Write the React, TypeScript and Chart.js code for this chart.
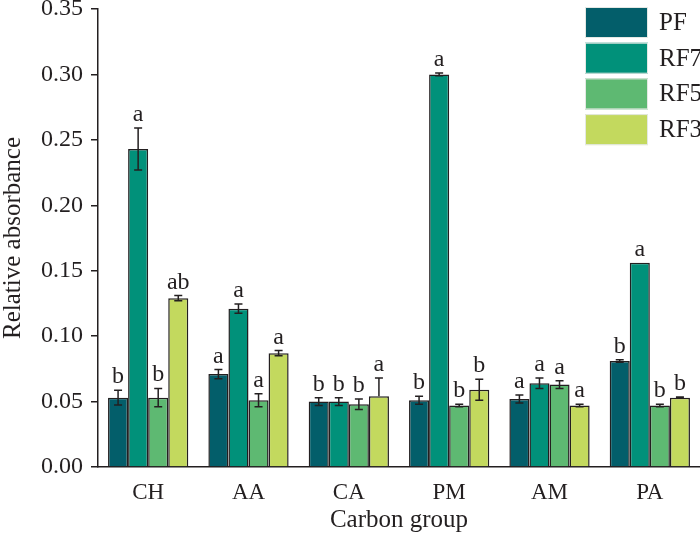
import React, { useEffect, useRef } from 'react';
import { Chart, registerables } from 'chart.js';

Chart.register(...registerables);

const categories = ['CH', 'AA', 'CA', 'PM', 'AM', 'PA'];
const seriesNames = ['PF', 'RF7', 'RF5', 'RF3'];
const seriesColors = ['#035E6A', '#01917A', '#5EB972', '#C3D95E'];

const pfValues = [0.053, 0.071, 0.050, 0.051, 0.052, 0.081];
const rf7Values = [0.243, 0.121, 0.050, 0.300, 0.064, 0.156];
const rf5Values = [0.053, 0.051, 0.048, 0.047, 0.063, 0.047];
const rf3Values = [0.129, 0.087, 0.054, 0.059, 0.047, 0.053];

const pfUpperErrors = [0.0057, 0.0035, 0.003, 0.003, 0.003, 0.001];
const rf7UpperErrors = [0.016, 0.0035, 0.003, 0.001, 0.004, 0];
const rf5UpperErrors = [0.007, 0.005, 0.004, 0.001, 0.003, 0.001];
const rf3UpperErrors = [0.002, 0.002, 0.014, 0.008, 0.001, 0.0005];

const pfLowerErrors = [0.0057, 0.0035, 0.003, 0.003, 0.003, 0.001];
const rf7LowerErrors = [0.016, 0.0035, 0.003, 0.001, 0.004, 0];
const rf5LowerErrors = [0.007, 0.005, 0.004, 0.001, 0.003, 0.001];
const rf3LowerErrors = [0.002, 0.002, 0, 0.008, 0.001, 0.0005];

const pfLetters = ['b', 'a', 'b', 'b', 'a', 'b'];
const rf7Letters = ['a', 'a', 'b', 'a', 'a', 'a'];
const rf5Letters = ['b', 'a', 'b', 'b', 'a', 'b'];
const rf3Letters = ['ab', 'a', 'a', 'b', 'a', 'b'];

const yTicks = [0, 0.05, 0.1, 0.15, 0.2, 0.25, 0.3, 0.35];

const allValues = [pfValues, rf7Values, rf5Values, rf3Values];
const allUpper = [pfUpperErrors, rf7UpperErrors, rf5UpperErrors, rf3UpperErrors];
const allLower = [pfLowerErrors, rf7LowerErrors, rf5LowerErrors, rf3LowerErrors];
const allLetters = [pfLetters, rf7Letters, rf5Letters, rf3Letters];

const FONT = '"Liberation Serif", "Times New Roman", serif';
const INK = '#231f20';

const errorPlugin = {
  id: 'errorLetters',
  afterDatasetsDraw(chart: any) {
    const ctx = chart.ctx;
    const yScale = chart.scales.y;
    ctx.save();
    ctx.strokeStyle = INK;
    ctx.fillStyle = INK;
    ctx.lineWidth = 1.5;
    ctx.font = `24px ${FONT}`;
    ctx.textAlign = 'center';
    ctx.textBaseline = 'alphabetic';
    chart.data.datasets.forEach((ds: any, i: number) => {
      const meta = chart.getDatasetMeta(i);
      meta.data.forEach((el: any, j: number) => {
        const v = allValues[i][j];
        const up = allUpper[i][j];
        const lo = allLower[i][j];
        const x = el.x;
        const yTop = yScale.getPixelForValue(v + up);
        const yBot = yScale.getPixelForValue(v - lo);
        const cap = 4;
        if (up > 0 || lo > 0) {
          ctx.beginPath();
          ctx.moveTo(x, yTop);
          ctx.lineTo(x, yBot);
          ctx.moveTo(x - cap, yTop);
          ctx.lineTo(x + cap, yTop);
          if (lo > 0) {
            ctx.moveTo(x - cap, yBot);
            ctx.lineTo(x + cap, yBot);
          }
          ctx.stroke();
        }
        ctx.fillText(allLetters[i][j], x, yTop - 7);
      });
    });
    ctx.restore();
  },
  afterDraw(chart: any) {
    const ctx = chart.ctx;
    ctx.save();
    const bx = 585;
    const by = 7;
    const bw = 63;
    const bh = 31;
    const pitch = 35.7;
    chart.data.datasets.forEach((ds: any, i: number) => {
      const y = by + i * pitch;
      ctx.fillStyle = ds.backgroundColor;
      ctx.fillRect(bx, y, bw, bh);
      ctx.strokeStyle = '#e4e8e4';
      ctx.lineWidth = 1;
      ctx.strokeRect(bx + 0.5, y + 0.5, bw - 1, bh - 1);
      ctx.fillStyle = INK;
      ctx.font = `25px ${FONT}`;
      ctx.textAlign = 'left';
      ctx.textBaseline = 'middle';
      ctx.fillText(ds.label, 659, y + bh / 2 + 1);
    });
    ctx.restore();
  },
};

export default function App() {
  const canvasRef = useRef<HTMLCanvasElement | null>(null);

  useEffect(() => {
    document.body.style.margin = '0';
    const canvas = canvasRef.current;
    if (!canvas) return;
    const chart = new Chart(canvas, {
      type: 'bar',
      data: {
        labels: categories,
        datasets: seriesNames.map((name, i) => ({
          label: name,
          data: allValues[i],
          backgroundColor: seriesColors[i],
          borderColor: INK,
          borderWidth: 1.5,
          categoryPercentage: 0.8,
          barPercentage: 1.0,
        })),
      },
      options: {
        responsive: false,
        animation: false,
        devicePixelRatio: 1,
        layout: { padding: { top: 9, left: 0, right: 0, bottom: 0 } },
        plugins: {
          legend: { display: false },
          tooltip: { enabled: false },
        },
        scales: {
          x: {
            grid: { display: false, drawTicks: false },
            border: { display: true, color: INK, width: 1.5 },
            ticks: {
              color: INK,
              font: { family: FONT, size: 23 },
              padding: 12,
            },
            title: {
              display: true,
              text: 'Carbon group',
              color: INK,
              font: { family: FONT, size: 25, lineHeight: 1.0 },
              padding: { top: 0, bottom: 0 },
            },
            afterFit(scale: any) {
              scale.height = 66;
              scale.paddingLeft = 0;
              scale.paddingRight = 0;
            },
          },
          y: {
            min: 0,
            max: 0.35,
            afterBuildTicks(scale: any) {
              scale.ticks = yTicks.map((v) => ({ value: v }));
            },
            grid: {
              display: true,
              drawOnChartArea: false,
              drawTicks: true,
              tickLength: 7,
              color: INK,
              lineWidth: 1.5,
            },
            border: { display: true, color: INK, width: 1.5 },
            ticks: {
              color: INK,
              font: { family: FONT, size: 24 },
              padding: 8,
              callback: (v: any) => Number(v).toFixed(2),
            },
            title: {
              display: true,
              text: 'Relative absorbance',
              color: INK,
              font: { family: FONT, size: 25, lineHeight: 1.0 },
              padding: { top: 1, bottom: 0 },
            },
            afterFit(scale: any) {
              scale.width = 98;
              scale.paddingTop = 0;
              scale.paddingBottom = 0;
            },
          },
        },
      },
      plugins: [errorPlugin],
    });
    return () => chart.destroy();
  }, []);

  return (
    <div style={{ width: 700, height: 533, position: 'relative' }}>
      <canvas ref={canvasRef} width={700} height={533} style={{ display: 'block' }} />
    </div>
  );
}
